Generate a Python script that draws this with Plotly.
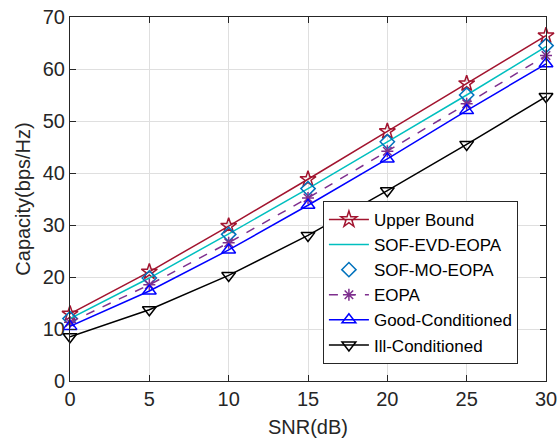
import plotly.graph_objects as go

# SNR points (dB)
snr = [0, 5, 10, 15, 20, 25, 30]

# Capacity (bps/Hz)
upper_bound = [12.9, 21.0, 29.8, 38.8, 48.0, 57.2, 66.4]
sof_evd_eopa = [12.0, 19.8, 28.3, 37.0, 46.0, 55.0, 64.3]
sof_mo_eopa = [12.0, 19.8, 28.2, 37.0, 46.0, 55.0, 64.5]
eopa = [11.3, 18.5, 26.6, 35.2, 44.2, 53.3, 62.6]
good_cond = [10.5, 17.3, 25.2, 33.8, 42.7, 52.0, 61.0]
ill_cond = [8.5, 13.7, 20.3, 28.0, 36.6, 45.5, 54.7]

fig = go.Figure()

fig.add_trace(go.Scatter(x=snr, y=upper_bound, name="Upper Bound", mode="lines+markers",
                         line=dict(color="#A2142F", width=1.5), cliponaxis=False,
                         marker=dict(symbol="star-open", size=12, color="#A2142F", line=dict(width=1.5))))
fig.add_trace(go.Scatter(x=snr, y=sof_evd_eopa, name="SOF-EVD-EOPA", mode="lines",
                         line=dict(color="#00BFBF", width=1.5)))
fig.add_trace(go.Scatter(x=snr, y=sof_mo_eopa, name="SOF-MO-EOPA", mode="markers", cliponaxis=False,
                         marker=dict(symbol="diamond-open", size=11, color="#0072BD", line=dict(width=1.5))))
fig.add_trace(go.Scatter(x=snr, y=eopa, name="EOPA", mode="lines+markers", cliponaxis=False,
                         line=dict(color="#7E2F8E", width=1.5, dash="dash"),
                         marker=dict(symbol="asterisk-open", size=10, color="#7E2F8E", line=dict(width=1.5, color="#7E2F8E"))))
fig.add_trace(go.Scatter(x=snr, y=good_cond, name="Good-Conditioned", mode="lines+markers", cliponaxis=False,
                         line=dict(color="#0000FF", width=1.5),
                         marker=dict(symbol="triangle-up-open", size=12, color="#0000FF", line=dict(width=1.5))))
fig.add_trace(go.Scatter(x=snr, y=ill_cond, name="Ill-Conditioned", mode="lines+markers", cliponaxis=False,
                         line=dict(color="#000000", width=1.5),
                         marker=dict(symbol="triangle-down-open", size=12, color="#000000", line=dict(width=1.5))))

axis_common = dict(showline=True, linecolor="#262626", linewidth=1, mirror="ticks",
                   ticks="inside", ticklen=6, tickcolor="#262626", automargin=False,
                   showgrid=True, gridcolor="#DFDFDF", gridwidth=1, zeroline=False,
                   tickfont=dict(size=20, color="#262626"))

fig.update_xaxes(range=[0, 30], dtick=5, title=dict(text="SNR(dB)", font=dict(size=20, color="#262626"), standoff=10),
                 **axis_common)
fig.update_yaxes(range=[0, 70], dtick=10, title=dict(text="Capacity(bps/Hz)", font=dict(size=20, color="#262626"), standoff=6),
                 **axis_common)

fig.update_layout(
    width=558, height=440,
    margin=dict(l=70, r=12, t=17, b=59),
    paper_bgcolor="white", plot_bgcolor="white",
    font=dict(family="Liberation Sans, Arial, sans-serif", color="#262626"),
    legend=dict(x=0.941, y=0.047, xanchor="right", yanchor="bottom",
                bgcolor="white", bordercolor="#262626", borderwidth=1,
                font=dict(size=17, color="#000000"), tracegroupgap=0, itemwidth=40),
    showlegend=True,
)

# drop the default page margin so the figure sits at the top-left corner
fig.write_html("out.html", config={"displayModeBar": False},
               post_script="document.body.style.margin='0';")
